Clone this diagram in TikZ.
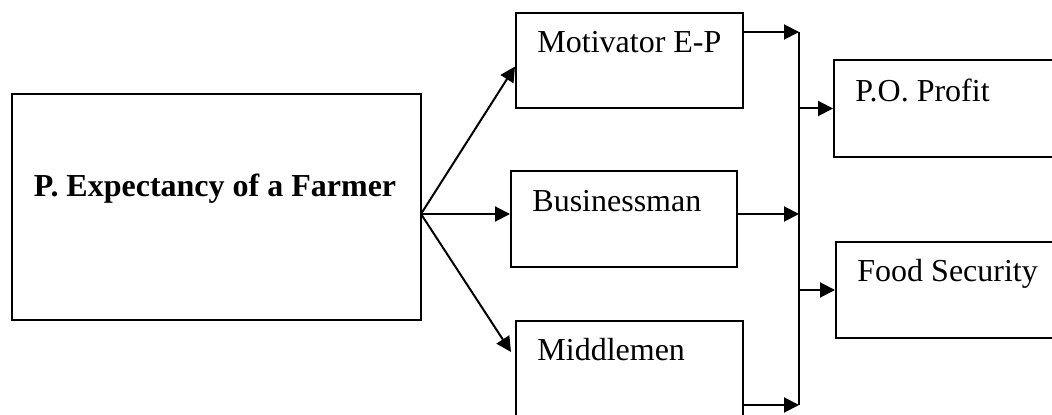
\documentclass[tikz,border=0pt]{standalone}
\usepackage{fontspec}
\setmainfont{Liberation Serif}
\usetikzlibrary{arrows.meta}

\begin{document}
\begin{tikzpicture}[
    x=0.5pt, y=-0.5pt,
    box/.style={rectangle, draw, line width=1pt, inner sep=0pt},
    txt/.style={anchor=base west, inner sep=0pt, font=\fontsize{16pt}{19pt}\selectfont},
    arrow/.style={-{Triangle[length=7.5pt,width=7.5pt]}, line width=1pt},
    link/.style={line width=1pt}
]
\path[use as bounding box, clip] (0,0) rectangle (1052,415);

\node[box, minimum width=204.5pt, minimum height=113pt] (farm) at (216.5,207) {};
\node[box, minimum width=113.5pt, minimum height=47.5pt] (mot) at (629.5,60.5) {};
\node[box, minimum width=113pt, minimum height=48pt] (bus) at (624,219) {};
\node[box, minimum width=113.5pt, minimum height=49.5pt] (mid) at (629.5,370.5) {};
\node[box, minimum width=114pt, minimum height=48.5pt] (prof) at (948,108.5) {};
\node[box, minimum width=114pt, minimum height=48pt] (food) at (950,290) {};

\node[txt, anchor=base, font=\fontsize{16pt}{19pt}\selectfont\bfseries] (farmT) at (215,197) {P. Expectancy of a Farmer};
\node[txt] (motT) at (537,53) {Motivator E-P};
\node[txt] (busT) at (532,212) {Businessman};
\node[txt] (midT) at (537,361) {Middlemen};
\node[txt] (profT) at (855,102) {P.O. Profit};
\node[txt] (foodT) at (857,282) {Food Security};

\coordinate (fan) at (421,214);
\coordinate (barTop) at (799,32);
\coordinate (barBot) at (799,405);

\draw[arrow] (fan) -- ([yshift=-3pt]mot.west);
\draw[arrow] (fan) -- (fan -| bus.west);
\draw[arrow] (fan) -- (511,352);

\draw[arrow] (barTop -| mot.east) -- (barTop);
\draw[arrow] (fan -| bus.east) -- (fan -| barTop);
\draw[arrow] (barBot -| mid.east) -- (barBot);
\draw[link] (barTop) -- (barBot);

\draw[arrow] (prof.west -| barTop) -- (prof.west);
\draw[arrow] (food.west -| barTop) -- (food.west);
\end{tikzpicture}
\end{document}
